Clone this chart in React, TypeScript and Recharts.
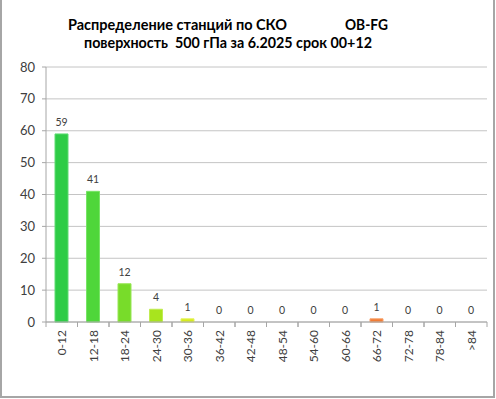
import React from 'react';
import { BarChart, Bar, XAxis, YAxis, CartesianGrid, Cell, LabelList } from 'recharts';

const categories = ['0-12', '12-18', '18-24', '24-30', '30-36', '36-42', '42-48', '48-54', '54-60', '60-66', '66-72', '72-78', '78-84', '>84'];
const counts = [59, 41, 12, 4, 1, 0, 0, 0, 0, 0, 1, 0, 0, 0];
const yTicks = [0, 10, 20, 30, 40, 50, 60, 70, 80];
const titleLine1a = 'Распределение станций по СКО';
const titleLine1b = 'OB-FG';
const titleLine2 = 'поверхность  500 гПа за 6.2025 срок 00+12';

const barColors = ['#2ecc46', '#4fd63a', '#78dc2a', '#a8e41e', '#d6ec1e', '#d6ec1e', '#d6ec1e', '#d6ec1e', '#d6ec1e', '#d6ec1e', '#f27c34', '#f27c34', '#f27c34', '#f27c34'];
const barStrokes = ['#5edc72', '#78e466', '#98e656', '#c0ec52', '#e4f25a', '#e4f25a', '#e4f25a', '#e4f25a', '#e4f25a', '#e4f25a', '#f7a06a', '#f7a06a', '#f7a06a', '#f7a06a'];

const data = categories.map((c, i) => ({ name: c, value: counts[i] }));

const FONT = 'Lato, "Open Sans", sans-serif';
const AXIS = '#a6a6a6';

const XTick = (props: any) => {
  const { x, y, payload } = props;
  const off = payload && typeof payload.offset === 'number' && payload.offset > 0 ? payload.offset : 15.75;
  return (
    <g>
      <line x1={x - off} x2={x - off} y1={y} y2={y + 5} stroke={AXIS} strokeWidth={1} />
      <line x1={x + off} x2={x + off} y1={y} y2={y + 5} stroke={AXIS} strokeWidth={1} />
      <text
        transform={`translate(${x},${y + 8}) rotate(-90)`}
        textAnchor="end"
        dy="0.36em"
        fontSize={12}
        fontFamily={FONT}
        fill="#404040"
      >
        {payload.value}
      </text>
    </g>
  );
};

const ValueLabel = (props: any) => {
  const { x, y, width, value } = props;
  if (x == null || y == null) return null;
  return (
    <text x={x + width / 2} y={y - 8} textAnchor="middle" fontSize={10.5} fontFamily={FONT} fill="#404040">
      {value}
    </text>
  );
};

export default function App() {
  return (
    <div style={{ position: 'absolute', left: 0, top: 0, width: 496, height: 399, background: '#fff' }}>
      <div
        style={{
          position: 'absolute',
          left: 0,
          top: 0,
          width: 491,
          height: 396,
          borderLeft: '2px solid #a6a6a6',
          borderRight: '2px solid #a6a6a6',
          borderBottom: '2px solid #a6a6a6',
        }}
      />
      <svg width={496} height={60} style={{ position: 'absolute', left: 0, top: 0 }}>
        <text x={68} y={30} fontFamily={FONT} fontWeight={700} fontSize={15.5} fill="#000" textLength={219} lengthAdjust="spacingAndGlyphs">{titleLine1a}</text>
        <text x={345} y={30} fontFamily={FONT} fontWeight={700} fontSize={15.5} fill="#000" textLength={43} lengthAdjust="spacingAndGlyphs">{titleLine1b}</text>
        <text x={84} y={48} fontFamily={FONT} fontWeight={700} fontSize={15.5} fill="#000" textLength={288} lengthAdjust="spacingAndGlyphs" style={{ whiteSpace: 'pre' }}>{titleLine2}</text>
      </svg>
      <div style={{ position: 'absolute', left: 0, top: 0 }}>
        <BarChart width={496} height={399} data={data} margin={{ top: 67, right: 9, left: 0, bottom: 37 }}>
          <CartesianGrid vertical={false} stroke="#c4c4c4" strokeWidth={1} />
          <XAxis
            dataKey="name"
            interval={0}
            tickSize={0}
            tickMargin={0}
            tickLine={false}
            axisLine={{ stroke: AXIS, strokeWidth: 1 }}
            height={40}
            tick={<XTick />}
          />
          <YAxis
            domain={[0, 80]}
            ticks={yTicks}
            interval={0}
            width={46}
            tickSize={4}
            tickMargin={7}
            tickLine={{ stroke: AXIS }}
            axisLine={{ stroke: AXIS, strokeWidth: 1 }}
            tick={{ fontSize: 13, fontFamily: FONT, fill: '#404040' }}
          />
          <Bar dataKey="value" barSize={13} minPointSize={0.01} isAnimationActive={false}>
            {data.map((d, i) => (
              <Cell
                key={d.name}
                fill={d.value > 0 ? barColors[i] : 'transparent'}
                stroke={d.value > 0 ? barStrokes[i] : 'none'}
                strokeWidth={1}
              />
            ))}
            <LabelList dataKey="value" content={<ValueLabel />} />
          </Bar>
        </BarChart>
      </div>
    </div>
  );
}
